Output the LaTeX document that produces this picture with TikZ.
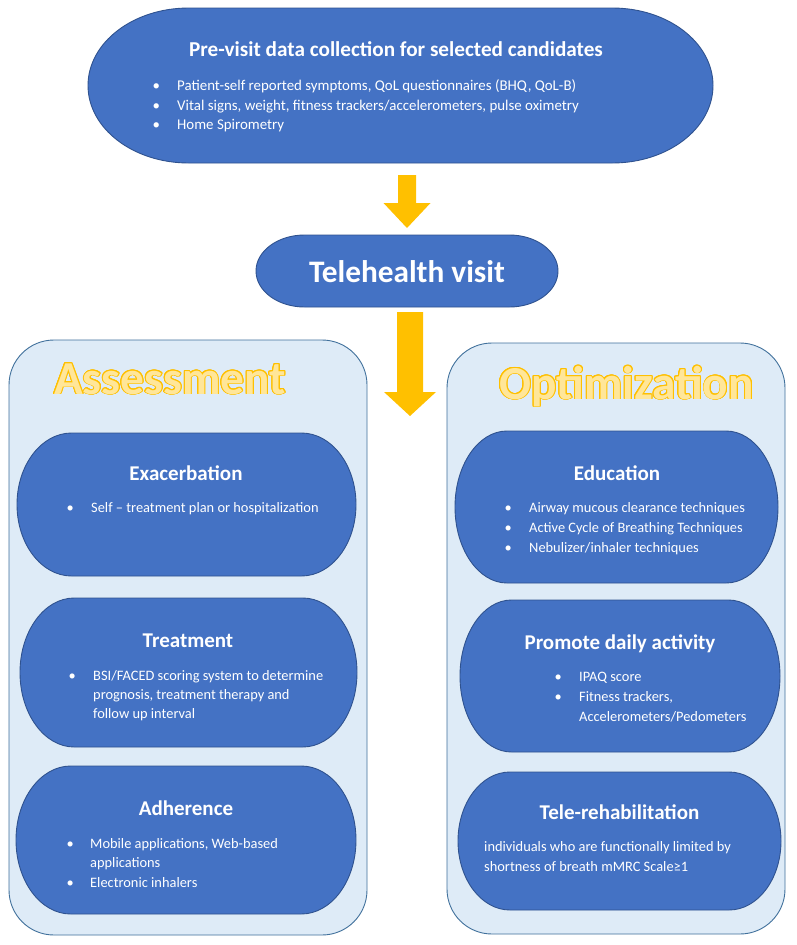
\documentclass[tikz,border=0pt]{standalone}
\usepackage{fontspec}
\setmainfont{Carlito}
\usepackage{contour}
\usetikzlibrary{calc}
\definecolor{pillblue}{HTML}{4472C4}
\definecolor{pillborder}{HTML}{2F528F}
\definecolor{boxfill}{HTML}{DEEBF7}
\definecolor{boxborder}{HTML}{41719C}
\definecolor{arrowyellow}{HTML}{FFC000}
\definecolor{headfill}{HTML}{FFE699}
\definecolor{headline}{HTML}{FFC000}
\newcommand\bodyfont{\fontsize{14.4}{17}\selectfont}
\newcommand\topbodyfont{\fontsize{14.9}{17}\selectfont}
\newcommand\subtitlefont{\bfseries\fontsize{21}{25}\selectfont}
\newcommand\toptitlefont{\bfseries\fontsize{21.2}{25}\selectfont}
\newcommand\telefont{\bfseries\fontsize{31.3}{36}\selectfont}
\newcommand\headfont{\bfseries\fontsize{47.3}{52}\selectfont}
\contourlength{0.9pt}
\newcommand\termin[5]{%
  \pgfmathsetmacro\trx{0.161*(#4-#2)}%
  \pgfmathsetmacro\try{(#5-#3)/2}%
  \draw[pillstyle] (#2+\trx,#3) -- (#4-\trx,#3)
    arc[start angle=90,end angle=-90,x radius=\trx pt,y radius=\try pt]
    -- (#2+\trx,#5)
    arc[start angle=270,end angle=90,x radius=\trx pt,y radius=\try pt] -- cycle;
  \node[inner sep=0pt,minimum width={(#4-#2)*1pt},minimum height={(#5-#3)*1pt}] (#1) at ({(#2+#4)/2},{(#3+#5)/2}) {};%
}
\newcommand\blockarrow[5]{%
  \fill[arrowyellow] let \p1=(#1), \p2=(#2) in
   (\x1-#3pt,\y1) -- (\x1+#3pt,\y1) -- (\x1+#3pt,\y2+#5pt) -- (\x1+#4pt,\y2+#5pt)
   -- (\x2,\y2) -- (\x1-#4pt,\y2+#5pt) -- (\x1-#3pt,\y2+#5pt) -- cycle;}
\newcommand\bitem[5]{\node[txt] (#1b) at (#2-3.5,#4) {•}; \node[txt] (#1) at (#3,#4) {#5};}
\newcommand\tline[4]{\node[txt] (#1) at (#2,#3) {#4};}
\begin{document}
\begin{tikzpicture}[x=1pt,y=-1pt,
  pillstyle/.style={fill=pillblue,draw=pillborder,line width=0.9pt},
  boxstyle/.style={fill=boxfill,draw=boxborder,line width=0.9pt,rounded corners=45pt,inner sep=0pt},
  txt/.style={anchor=base west,inner sep=0pt,text=white,font=\bodyfont},
  ttl/.style={anchor=base,inner sep=0pt,text=white},
  head/.style={anchor=base,inner sep=0pt,font=\headfont}]
\useasboundingbox (0,0) rectangle (796,945);
\fill[white] (0,0) rectangle (796,945);
% containers
\node[boxstyle,minimum width=358pt,minimum height=595pt] (leftbox) at (188,637.5) {};
\node[boxstyle,minimum width=338pt,minimum height=591pt] (rightbox) at (616,638.5) {};
% headings
\node[head] (assess) at (170,394) {\contour{headline}{\textcolor{headfill}{Assessment}}};
\node[head] (optim) at (626.5,399) {\contour{headline}{\textcolor{headfill}{Optimization}}};
% top pill
\termin{pre}{88}{8}{713}{163}
\node[ttl,font=\toptitlefont] (pretitle) at (396,56) {Pre-visit data collection for selected candidates};
\begin{scope}[txt/.append style={font=\topbodyfont}]
\bitem{pre1}{156}{177}{90}{Patient-self reported symptoms, QoL questionnaires (BHQ, QoL-B)}
\bitem{pre2}{156}{177}{110}{Vital signs, weight, fitness trackers/accelerometers, pulse oximetry}
\bitem{pre3}{156}{177}{129}{Home Spirometry}
\end{scope}
% telehealth
\termin{tele}{256}{235}{558}{307}
\node[ttl,font=\telefont] (teletitle) at (407,282) {Telehealth visit};
% arrows
\coordinate (a1s) at (407,175);
\coordinate (a1e) at (407,228);
\coordinate (a2s) at (410,312);
\coordinate (a2e) at (410,416);
\blockarrow{a1s}{a1e}{9}{23.5}{25}
\blockarrow{a2s}{a2e}{13}{26}{24}
% left pills
\termin{exac}{17}{433}{356}{576}
\node[ttl,font=\subtitlefont] (exact) at (186,480) {Exacerbation};
\bitem{exac1}{70}{91}{512}{Self – treatment plan or hospitalization}
\termin{treat}{20}{598}{357}{747}
\node[ttl,font=\subtitlefont] (treatt) at (188,647) {Treatment};
\bitem{treat1}{72}{93}{680}{BSI/FACED scoring system to determine}
\tline{treat2}{93}{699}{prognosis, treatment therapy and}
\tline{treat3}{93}{718}{follow up interval}
\termin{adh}{16}{766}{356}{914}
\node[ttl,font=\subtitlefont] (adht) at (186,815) {Adherence};
\bitem{adh1}{70}{90}{848}{Mobile applications, Web-based}
\tline{adh2}{90}{867}{applications}
\bitem{adh3}{70}{90}{887}{Electronic inhalers}
% right pills
\termin{edu}{455}{431}{778}{583}
\node[ttl,font=\subtitlefont] (edut) at (617,480) {Education};
\bitem{edu1}{508}{529}{512}{Airway mucous clearance techniques}
\bitem{edu2}{508}{529}{532}{Active Cycle of Breathing Techniques}
\bitem{edu3}{508}{529}{552}{Nebulizer/inhaler techniques}
\termin{prom}{460}{600}{780}{752}
\node[ttl,font=\subtitlefont] (promt) at (620,649) {Promote daily activity};
\bitem{prom1}{558}{579}{681}{IPAQ score}
\bitem{prom2}{558}{579}{701}{Fitness trackers,}
\tline{prom3}{579}{721}{Accelerometers/Pedometers}
\termin{rehab}{458}{772}{781}{910}
\node[ttl,font=\subtitlefont] (rehabt) at (619.5,819) {Tele-rehabilitation};
\tline{rehab1}{484}{851}{individuals who are functionally limited by}
\tline{rehab2}{484}{871}{shortness of breath mMRC Scale≥1}
\end{tikzpicture}
\end{document}
